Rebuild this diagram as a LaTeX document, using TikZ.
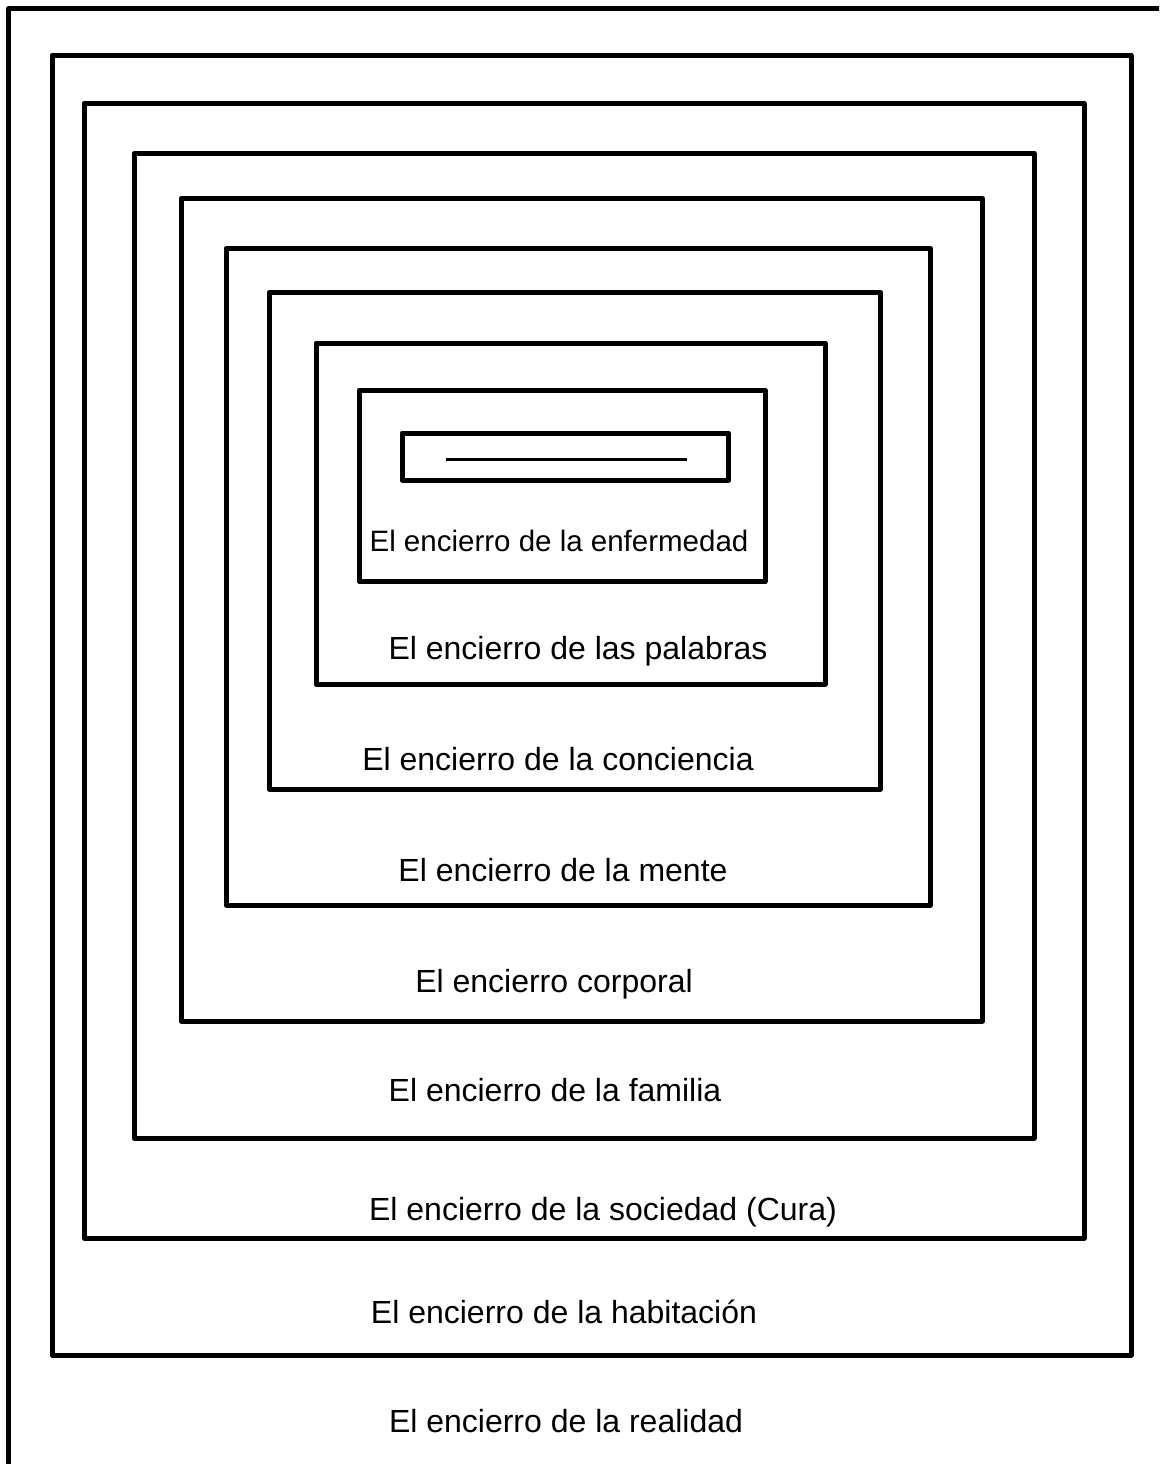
\documentclass[tikz,border=0pt]{standalone}
\usepackage{fontspec}
\setmainfont{Liberation Sans}
\begin{document}
\begin{tikzpicture}[x=1pt,y=-1pt,
  frame/.style={draw=black,line width=5pt,line join=round},
  lbl/.style={anchor=base,inner sep=0pt,font=\fontsize{32}{38}\selectfont},
  lblsmall/.style={anchor=base,inner sep=0pt,font=\fontsize{29.5}{35}\selectfont}]
\path[use as bounding box,clip] (0,0) rectangle (1159,1464);
\fill[white] (0,0) rectangle (1159,1464);
% frames
\draw[frame] (8.5,8.5) rectangle (1180,1490);
\draw[frame] (52,55.5) rectangle (1131,1355);
\draw[frame] (84,103.5) rectangle (1084,1238);
\draw[frame] (134,153.5) rectangle (1034,1138);
\draw[frame] (181,198.5) rectangle (982.5,1021);
\draw[frame] (226,248.5) rectangle (930.5,905);
\draw[frame] (269,292.5) rectangle (880.5,789);
\draw[frame] (316,343) rectangle (825,684);
\draw[frame] (359,390) rectangle (765,581.5);
\draw[frame] (402,433) rectangle (728.5,480);
\coordinate (la) at (446,459.5);
\coordinate (lb) at (687,459.5);
\draw[line width=2.5pt] (la) -- (lb);
% labels
\node[lblsmall] (t1) at (559,551) {El encierro de la enfermedad};
\node[lbl] (t2) at (578,659) {El encierro de las palabras};
\node[lbl] (t3) at (558,770) {El encierro de la conciencia};
\node[lbl] (t4) at (563,881) {El encierro de la mente};
\node[lbl] (t5) at (554,992) {El encierro corporal};
\node[lbl] (t6) at (555,1101) {El encierro de la familia};
\node[lbl] (t7) at (603,1220) {El encierro de la sociedad (Cura)};
\node[lbl] (t8) at (564,1323) {El encierro de la habitación};
\node[lbl] (t9) at (566,1432) {El encierro de la realidad};
\end{tikzpicture}
\end{document}
